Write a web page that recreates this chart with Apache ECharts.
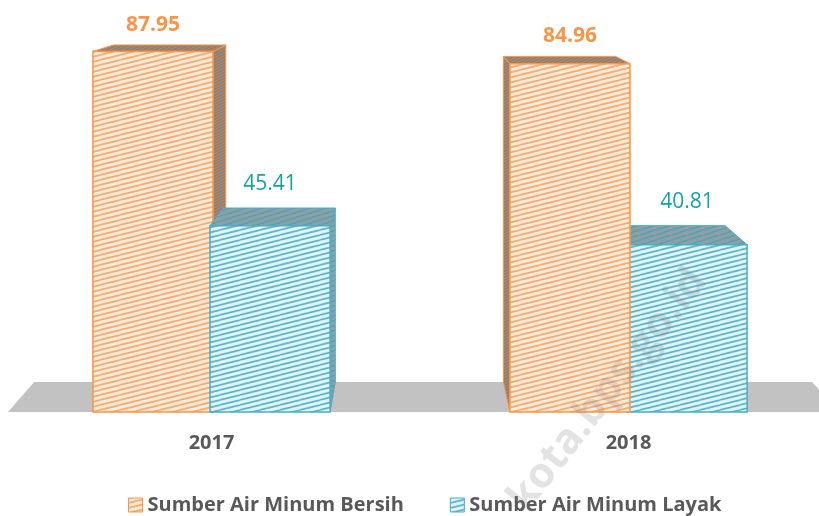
<!DOCTYPE html>
<html>
<head>
<meta charset="utf-8">
<script src="https://cdn.jsdelivr.net/npm/echarts@6/dist/echarts.min.js"></script>
<style>
  html, body { margin: 0; padding: 0; background: #fff; }
  #main { width: 819px; height: 516px; }
</style>
</head>
<body>
<div id="main"></div>
<script>
var categories = ['2017', '2018'];
var seriesNames = ['Sumber Air Minum Bersih', 'Sumber Air Minum Layak'];
var bersihValues = [87.95, 84.96];
var layakValues = [45.41, 40.81];

// striped tile, lines rising to the right
function makeHatch(bg, line, w, h, lw) {
  var c = document.createElement('canvas');
  c.width = w;
  c.height = h;
  var ctx = c.getContext('2d');
  ctx.fillStyle = bg;
  ctx.fillRect(0, 0, w, h);
  ctx.strokeStyle = line;
  ctx.lineWidth = lw;
  for (var k = -1; k <= 1; k++) {
    ctx.beginPath();
    ctx.moveTo(0, h + k * h);
    ctx.lineTo(w, k * h);
    ctx.stroke();
  }
  return { image: c, repeat: 'repeat' };
}

var styles = [
  {
    front: makeHatch('#fdeadb', '#f6ac6c', 20, 5, 1.8),
    shade: makeHatch('#8c7f77', '#b98862', 6, 3, 1),
    border: '#f79646',
    label: '#f79646',
    weight: 'bold',
    lift: 20
  },
  {
    front: makeHatch('#e3f4f8', '#5cb8cc', 20, 5, 1.8),
    shade: makeHatch('#8fa0a5', '#52a2b3', 16, 5, 1.6),
    border: '#4bacc6',
    label: '#17a3a3',
    weight: 'normal',
    lift: 24
  }
];

// simple one point perspective
var VY = -48, DEPTH = 0.935;
function back(p, vx) {
  return [vx + DEPTH * (p[0] - vx), VY + DEPTH * (p[1] - VY)];
}

var chart = echarts.init(document.getElementById('main'));

function renderBar(params, api) {
  var si = params.seriesIndex - 1;
  var st = styles[si];
  var cat = api.value(0);
  var v = api.value(1);
  var base = api.coord([cat, 0]);
  var top = api.coord([cat, v]);
  var vx = 410;
  var w = api.size([1, 0])[0] * 0.288;
  var c = base[0];
  var x0 = si === 0 ? c - w + 1.5 : c - 1.5;
  var x1 = si === 0 ? c + 1.5 : c + w - 1.5;
  var yt = top[1], yb = base[1];
  // bar farther from the centre is drawn first
  var outer = (si === 0) === (cat === 0);
  var z = outer ? 10 : 20;
  var kids = [];
  var bl = back([x0, yt], vx), br = back([x1, yt], vx);
  // side face toward the centre
  var sx = x1 < vx ? x1 : x0;
  kids.push({
    type: 'polygon',
    z2: z,
    shape: { points: [[sx, yt], [sx, yb], back([sx, yb], vx), back([sx, yt], vx)] },
    style: { fill: st.shade, stroke: st.border, lineWidth: 1 }
  });
  kids.push({
    type: 'polygon',
    z2: z + 1,
    shape: { points: [[x0, yt], [x1, yt], br, bl] },
    style: { fill: st.shade, stroke: st.border, lineWidth: 1 }
  });
  kids.push({
    type: 'rect',
    z2: z + 2,
    shape: { x: x0, y: yt, width: x1 - x0, height: yb - yt },
    style: { fill: st.front, stroke: st.border, lineWidth: 1.5 }
  });
  kids.push({
    type: 'text',
    z2: 50,
    x: (x0 + x1) / 2,
    y: Math.min(bl[1], br[1]) - st.lift,
    style: {
      text: String(v.toFixed(2)),
      fill: st.label,
      font: st.weight + ' 21px "Open Sans"',
      align: 'center',
      verticalAlign: 'middle'
    }
  });
  return { type: 'group', children: kids };
}

function renderFloor(params, api) {
  var vx = 410;
  var y0 = api.coord([0, 0])[1];
  var a = [8, y0], b = [840, y0];
  return {
    type: 'polygon',
    shape: { points: [a, b, back(b, vx), back(a, vx)] },
    style: { fill: '#c2c2c2' },
    z2: 0
  };
}

var option = {
  animation: false,
  grid: { left: 3, top: 2, right: -18, height: 410, outerBoundsMode: 'none', containLabel: false },
  xAxis: {
    type: 'category',
    data: categories,
    axisLine: { show: false },
    axisTick: { show: false },
    axisLabel: {
      margin: 21,
      color: '#595959',
      fontFamily: 'Open Sans',
      fontWeight: 'bold',
      fontSize: 20
    }
  },
  yAxis: { type: 'value', min: 0, max: 100, show: false },
  legend: {
    data: seriesNames,
    top: 495,
    left: 128,
    padding: 0,
    itemWidth: 14,
    itemHeight: 14,
    itemGap: 46,
    itemStyle: { borderWidth: 1 },
    icon: 'rect',
    textStyle: {
      color: '#595959',
      fontFamily: 'Open Sans',
      fontWeight: 'bold',
      fontSize: 20
    }
  },
  graphic: [{
    type: 'text',
    x: 608,
    y: 390,
    rotation: 52 * Math.PI / 180,
    z: 100,
    silent: true,
    style: {
      text: 'kota.bps.go.id',
      fill: 'rgba(128,128,128,0.22)',
      font: 'bold 42px "Open Sans"',
      align: 'center',
      verticalAlign: 'middle'
    }
  }],
  series: [
    {
      type: 'custom',
      name: 'floor',
      silent: true,
      renderItem: renderFloor,
      data: [[0, 0]]
    },
    {
      type: 'custom',
      name: seriesNames[0],
      renderItem: renderBar,
      itemStyle: { color: styles[0].front, borderColor: styles[0].border, borderWidth: 1 },
      encode: { x: 0, y: 1 },
      data: bersihValues.map(function (v, i) { return [i, v]; })
    },
    {
      type: 'custom',
      name: seriesNames[1],
      renderItem: renderBar,
      itemStyle: { color: styles[1].front, borderColor: styles[1].border, borderWidth: 1 },
      encode: { x: 0, y: 1 },
      data: layakValues.map(function (v, i) { return [i, v]; })
    }
  ]
};
chart.setOption(option);
</script>
</body>
</html>
